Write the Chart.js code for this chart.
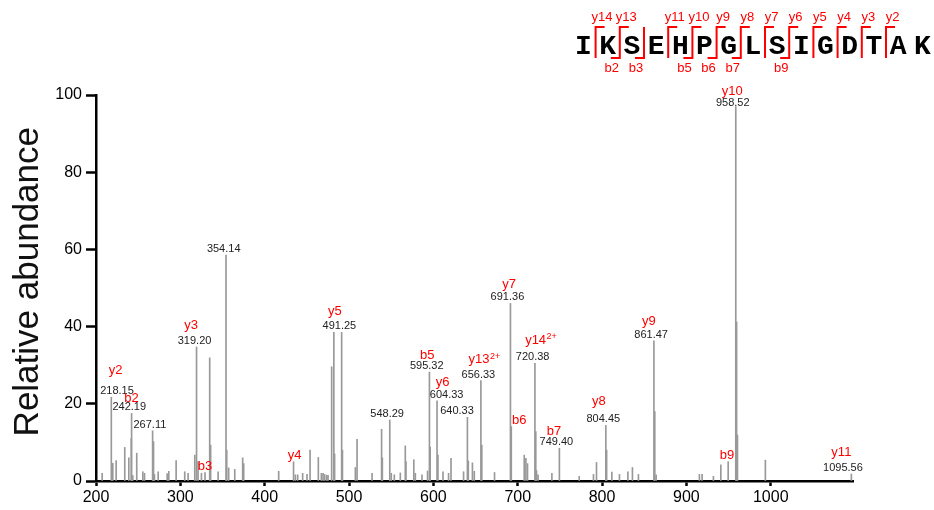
<!DOCTYPE html>
<html>
<head>
<meta charset="utf-8">
<script src="https://cdn.jsdelivr.net/npm/chart.js@4/dist/chart.umd.min.js"></script>
<style>
  html, body { margin: 0; padding: 0; background: #fff; }
  #wrap { width: 934px; height: 510px; }
</style>
</head>
<body>
<div id="wrap"><canvas id="spectrum" width="934" height="510"></canvas></div>
<script>
// Peptide and observed fragment cleavages (residue count on the N-terminal side)
const sequence = 'IKSEHPGLSIGDTAK';
const yCleavageAfter = [1, 2, 4, 5, 6, 7, 8, 9, 10, 11, 12, 13];
const bCleavageAfter = [2, 3, 5, 6, 7, 9];

// Annotated fragment peaks
const annMz = [218.15, 242.19, 267.11, 319.20, 329.22, 354.14, 434.22, 491.25, 548.29, 595.32, 604.33,
               640.33, 656.33, 691.36, 692.37, 720.38, 749.40, 804.45, 861.47, 949.51, 958.52, 1095.56];
const annIntensity = [21.7, 17.5, 13.0, 34.7, 2.2, 58.5, 5.0, 38.5, 15.8, 28.2, 20.8,
                      16.5, 26.0, 46.0, 14.1, 30.5, 8.5, 14.4, 36.3, 5.0, 97.0, 1.8];
const annIon = ['y2', 'b2', '', 'y3', 'b3', '', 'y4', 'y5', '', 'b5', 'y6',
                '', 'y13', 'y7', 'b6', 'y14', 'b7', 'y8', 'y9', 'b9', 'y10', 'y11'];
const annCharge = ['', '', '', '', '', '', '', '', '', '', '',
                   '', '2+', '', '', '2+', '', '', '', '', '', ''];
const annShowMz = [true, true, true, true, false, true, false, true, true, true, true,
                   true, true, true, false, true, true, true, true, false, true, true];

// Remaining (unassigned) centroid peaks
const otherMz = [207.3, 219.9, 223.9, 234.1, 238.9, 241.8, 243.6, 248.3, 255.5, 257.5, 268.2, 269.3,
                 273.7, 284.4, 286.3, 295.0, 305.2, 309.2, 317.1, 321.0, 325.0, 334.8, 335.9, 344.8,
                 355.0, 357.3, 364.5, 373.9, 375.1, 416.6, 436.4, 439.1, 445.0, 450.2, 453.8, 463.6,
                 467.2, 469.2, 471.1, 473.5, 475.1, 479.4, 482.0, 482.9, 492.2, 507.5, 509.5, 527.3,
                 538.6, 539.5, 550.1, 553.7, 560.8, 566.7, 567.5, 576.8, 578.6, 586.5, 593.1, 596.2,
                 605.4, 611.4, 618.0, 620.9, 635.8, 641.4, 646.3, 648.5, 657.4, 672.5, 707.7, 709.7,
                 711.6, 721.4, 722.3, 724.1, 740.5, 772.9, 789.8, 793.4, 805.4, 811.6, 820.6, 830.6,
                 836.0, 843.1, 862.5, 864.1, 915.4, 918.6, 932.0, 940.8, 959.52, 960.52, 993.6];
const otherIntensity = [2.0, 4.6, 5.3, 8.7, 6.0, 11.0, 1.4, 7.2, 2.4, 2.0, 10.2, 1.7,
                        2.4, 1.9, 2.5, 5.3, 2.4, 2.0, 6.7, 5.0, 2.0, 31.9, 9.3, 2.4,
                        8.0, 3.4, 3.0, 6.0, 4.5, 2.5, 1.6, 1.6, 2.0, 1.7, 8.0, 6.1,
                        2.0, 2.0, 1.7, 1.5, 1.5, 29.6, 38.5, 7.0, 8.0, 3.5, 10.8, 2.0,
                        13.4, 6.0, 2.0, 1.6, 2.1, 9.1, 5.0, 5.5, 2.0, 1.6, 2.6, 8.8,
                        6.7, 2.4, 2.0, 5.9, 2.4, 5.2, 4.7, 2.5, 9.3, 2.2, 6.7, 5.9,
                        4.5, 12.8, 2.7, 1.6, 2.0, 1.2, 1.7, 4.8, 8.0, 2.3, 1.7, 2.4,
                        3.5, 1.7, 18.0, 1.6, 1.7, 1.7, 1.2, 4.2, 41.2, 11.9, 5.4];

// Axis ticks
const xTickValues = [200, 300, 400, 500, 600, 700, 800, 900, 1000];
const yTickValues = [0, 20, 40, 60, 80, 100];

// Label placement tweaks (pixels): m/z text shift, ion text shift, baseline gap between them
const labelNudge = {
  '218.15': { mz: 5.7, ion: 4.4, gap: 20.2 },
  '242.19': { mz: -2.3, ion: 0, gap: 8.4 },
  '267.11': { mz: -2.7 },
  '319.20': { mz: -2, ion: -5.3, gap: 14.7 },
  '329.22': { ion: 0 },
  '354.14': { mz: -2.3 },
  '434.22': { ion: 1 },
  '491.25': { mz: -2.3, ion: -6.7, gap: 14.5 },
  '548.29': { mz: -2.6 },
  '595.32': { mz: -2.7, ion: -2.3, gap: 9.7 },
  '604.33': { mz: 9.6, ion: 5.6, gap: 12.2 },
  '640.33': { mz: -10.4 },
  '656.33': { mz: -2.5, ion: -1.8, gap: 14.4 },
  '691.36': { mz: -3, ion: -1.4, gap: 12.7 },
  '692.37': { ion: 8 },
  '720.38': { mz: -2.3, ion: 0.7, gap: 16.7 },
  '749.40': { mz: -3, ion: -5.3, gap: 9.8 },
  '804.45': { mz: -2.5, ion: -7, gap: 17.5 },
  '861.47': { mz: -2.8, ion: -5, gap: 12.4 },
  '949.51': { ion: -1.3 },
  '958.52': { mz: -3, ion: -3.5, gap: 11.4, lift: 0.5 },
  '1095.56': { mz: -8.4, ion: -10, gap: 15 }
};

const FONT = '"Liberation Sans", Arial, Helvetica, sans-serif';
const RED = '#ff0000';

const peaks = annMz.map((m, i) => ({ x: m, y: annIntensity[i] }))
  .concat(otherMz.map((m, i) => ({ x: m, y: otherIntensity[i] })))
  .sort((a, b) => a.x - b.x);

// Peak annotations: red ion name above the black m/z value
const peakLabels = {
  id: 'peakLabels',
  afterDatasetsDraw(chart) {
    const { ctx, scales: { x, y } } = chart;
    ctx.save();
    ctx.textAlign = 'center';
    ctx.textBaseline = 'alphabetic';
    annMz.forEach((m, i) => {
      const key = m.toFixed(2);
      const n = labelNudge[key] || {};
      const px = x.getPixelForValue(m);
      const top = y.getPixelForValue(annIntensity[i]);
      let base = top - (n.lift !== undefined ? n.lift : 3);
      if (annShowMz[i]) {
        ctx.font = '11px ' + FONT;
        ctx.fillStyle = '#222';
        ctx.fillText(key, px + (n.mz || 0), base);
        base -= (n.gap || 13);
      }
      if (annIon[i]) {
        ctx.font = '13px ' + FONT;
        ctx.fillStyle = RED;
        const cx = px + (n.ion || 0);
        const w = ctx.measureText(annIon[i]).width;
        ctx.fillText(annIon[i], cx, base);
        if (annCharge[i]) {
          ctx.font = '9px ' + FONT;
          ctx.textAlign = 'left';
          ctx.fillText(annCharge[i], cx + w / 2 + 0.5, base - 4.5);
          ctx.textAlign = 'center';
        }
      }
    });
    ctx.restore();
  }
};

// Sequence header with b/y cleavage brackets, plus the rotated axis title
const sequenceHeader = {
  id: 'sequenceHeader',
  afterDraw(chart) {
    const ctx = chart.ctx;
    const firstCenter = 583.5, pitch = 24.2;
    const topY = 27, botY = 58, arm = 9;
    ctx.save();
    ctx.fillStyle = '#000';
    ctx.font = 'bold 28px "Liberation Mono", "DejaVu Sans Mono", monospace';
    ctx.textAlign = 'center';
    ctx.textBaseline = 'alphabetic';
    for (let i = 0; i < sequence.length; i++) {
      ctx.fillText(sequence[i], firstCenter + i * pitch, 53.5);
    }
    const boundary = k => firstCenter + (k - 1) * pitch + pitch / 2;
    ctx.strokeStyle = RED;
    ctx.lineWidth = 2;
    ctx.lineJoin = 'miter';
    const cuts = new Set(yCleavageAfter.concat(bCleavageAfter));
    cuts.forEach(k => {
      const bx = boundary(k);
      const hasY = yCleavageAfter.includes(k);
      const hasB = bCleavageAfter.includes(k);
      ctx.beginPath();
      if (hasY) { ctx.moveTo(bx + arm, topY); ctx.lineTo(bx, topY); } else { ctx.moveTo(bx, topY); }
      ctx.lineTo(bx, botY);
      if (hasB) ctx.lineTo(bx - arm, botY);
      ctx.stroke();
    });
    ctx.fillStyle = RED;
    ctx.font = '13px ' + FONT;
    yCleavageAfter.forEach(k => {
      ctx.fillText('y' + (sequence.length - k), boundary(k) + 6.5, 21);
    });
    bCleavageAfter.forEach(k => {
      ctx.fillText('b' + k, boundary(k) - 8, 71.5);
    });

    // y-axis title
    ctx.fillStyle = '#111';
    ctx.font = '35px ' + FONT;
    ctx.translate(37.5, 281.7);
    ctx.rotate(-Math.PI / 2);
    ctx.textAlign = 'center';
    ctx.fillText('Relative abundance', 0, 0);
    ctx.restore();
  }
};

new Chart(document.getElementById('spectrum'), {
  type: 'bar',
  data: {
    datasets: [{
      data: peaks,
      backgroundColor: '#999999',
      borderWidth: 0,
      barThickness: 1,
      grouped: false
    }]
  },
  options: {
    responsive: false,
    animation: false,
    devicePixelRatio: 1,
    layout: { padding: { top: 95, right: 81, left: 0, bottom: 0 } },
    plugins: { legend: { display: false }, tooltip: { enabled: false } },
    scales: {
      x: {
        type: 'linear',
        min: 200,
        max: 1097.5,
        offset: false,
        afterBuildTicks(scale) { scale.ticks = xTickValues.map(v => ({ value: v })); },
        ticks: {
          autoSkip: false,
          maxRotation: 0,
          color: '#000',
          padding: 2,
          font: { family: FONT, size: 16 },
          callback: v => String(v)
        },
        grid: { display: true, offset: false, drawOnChartArea: false, drawTicks: true,
                tickLength: 5, tickWidth: 2.5, tickColor: '#000' },
        border: { display: true, color: '#000', width: 2.5 },
        afterFit(scale) { scale.height = 29; }
      },
      y: {
        min: 0,
        max: 100,
        afterBuildTicks(scale) { scale.ticks = yTickValues.map(v => ({ value: v })); },
        ticks: {
          color: '#000',
          padding: 4,
          font: { family: FONT, size: 16 },
          callback: v => String(v)
        },
        grid: { display: true, drawOnChartArea: false, drawTicks: true,
                tickLength: 10, tickWidth: 2.5, tickColor: '#000' },
        border: { display: true, color: '#000', width: 2.5 },
        afterFit(scale) { scale.width = 96; }
      }
    }
  },
  plugins: [peakLabels, sequenceHeader]
});
</script>
</body>
</html>
